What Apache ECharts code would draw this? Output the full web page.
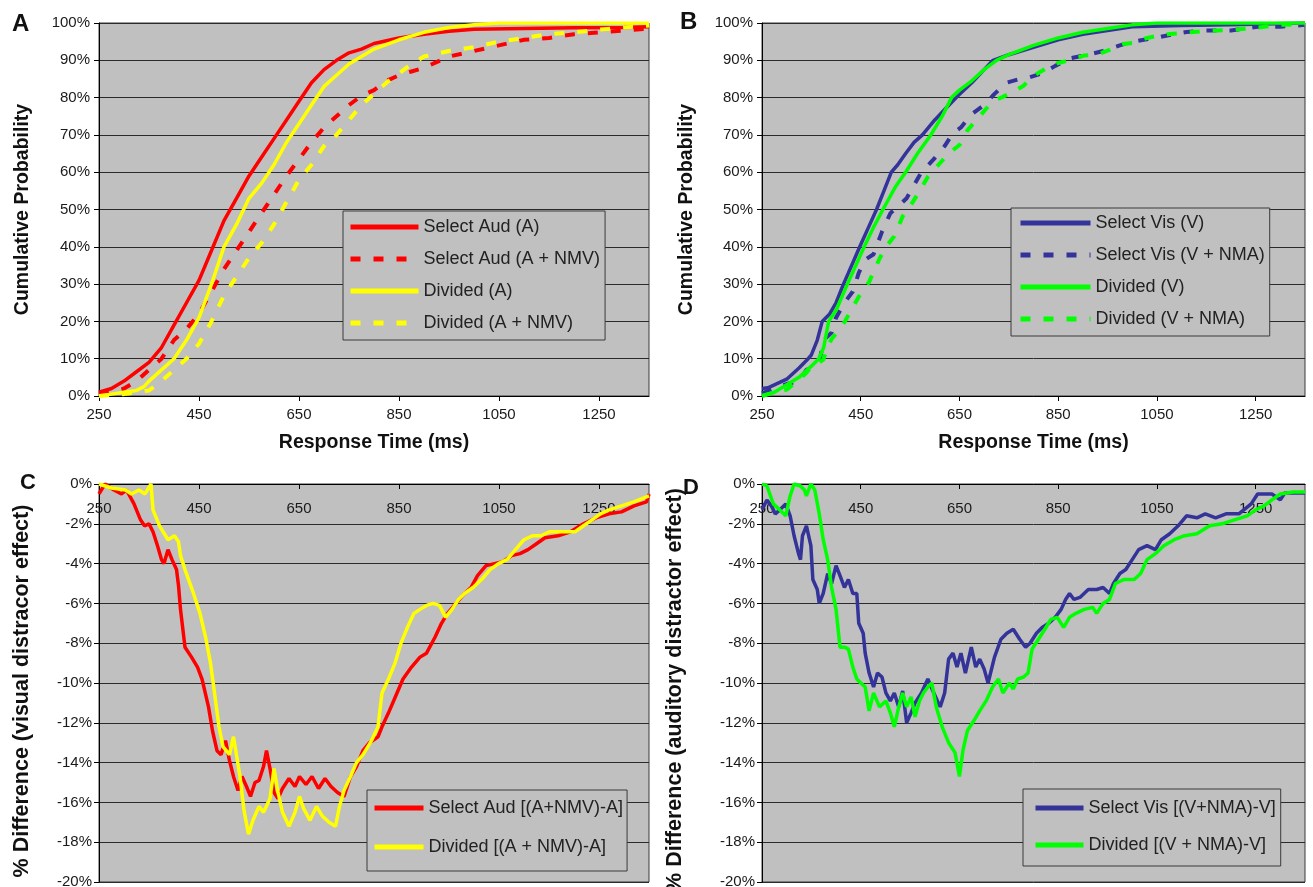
<!DOCTYPE html>
<html><head><meta charset="utf-8">
<script src="https://cdn.jsdelivr.net/npm/echarts@6/dist/echarts.min.js"></script>
<style>html,body{margin:0;padding:0;background:#fff}#c{width:1313px;height:887px}</style>
</head><body><div id="c"></div>
<script>
// ---------- tick labels ----------
const xTicks = [250, 450, 650, 850, 1050, 1250];

// ---------- Panel A : cumulative probability (%) vs response time (ms) ----------
const selAud = [[250,1],[275,2],[300,4],[325,6.5],[350,9],[375,13],[400,19],[425,25],[450,31],[475,39],[500,47],[525,53],[550,59],[575,64],[600,69],[625,74],[650,79],[675,84],[700,87.5],[725,90],[750,92],[775,93],[800,94.5],[850,96],[900,97],[950,97.8],[1000,98.3],[1100,98.5],[1200,98.7],[1300,98.8],[1350,99]];
const selAudNMV = [[250,0.5],[275,1],[300,2],[325,4],[350,7],[375,10],[400,15],[425,18],[450,22],[475,28],[500,34],[525,39],[550,44],[575,49],[600,54],[625,59],[650,63.5],[675,68],[700,72],[725,75],[750,78],[775,80.5],[800,82],[825,84.5],[850,86],[875,87],[900,88],[925,89.5],[950,91],[1000,92.5],[1050,94],[1100,95.5],[1150,96],[1200,97],[1250,97.5],[1300,98],[1350,98.5]];
const divA = [[250,0],[275,0.5],[300,1],[325,1.5],[340,2.5],[350,4],[375,7],[400,10],[425,15],[450,21],[475,30],[500,40],[525,46],[550,53],[575,57],[600,62],[625,68],[650,73],[675,78],[700,83],[725,86],[750,89],[775,91],[800,93],[850,95.5],[900,97.5],[950,98.8],[1000,99.5],[1050,100],[1350,100]];
const divANMV = [[250,0],[300,0.5],[350,1.5],[375,4],[400,7],[425,10],[450,14],[475,20],[500,27],[525,32],[550,37],[575,41],[600,46],[625,52],[650,58],[675,62],[700,67],[725,70],[750,74],[775,78],[800,81],[825,84],[850,86.5],[875,89],[900,91],[950,92.5],[1000,93.5],[1050,95],[1100,96],[1150,97],[1200,97.5],[1250,98.2],[1300,98.8],[1350,99.3]];

// ---------- Panel B ----------
const selVis = [[250,2],[262,2.2],[275,3],[300,4.5],[325,7.5],[340,9.5],[350,11],[362,15],[372,20],[387,22],[400,25],[415,30],[425,33],[448,40],[465,45],[482,50],[497,55],[512,60],[525,62],[541,65],[558,68],[575,70],[600,74],[625,77.5],[647,80.5],[675,84],[700,87.5],[718,90],[750,91.5],[800,93.5],[850,95.5],[900,97],[950,98],[1000,99],[1100,99.3],[1200,99.5],[1350,100]];
const selVisNMA = [[250,0.7],[275,2],[300,3.2],[325,4],[340,7],[350,7.5],[366,9],[375,15],[391,17],[400,21],[417,25],[434,28],[446,33],[459,36.5],[476,38],[493,44],[510,49],[527,51],[543,53],[560,57],[573,60],[598,63.5],[620,67],[637,70.5],[653,72],[674,75.5],[700,78],[721,81],[746,84],[772,85],[793,85.5],[818,86.5],[844,88.5],[873,90.5],[911,91.5],[941,92.5],[975,94],[1000,95],[1047,96],[1076,96.8],[1110,97.6],[1150,98],[1200,98],[1254,99],[1300,99],[1350,99.5]];
const divVis = [[250,0],[275,1],[300,3],[325,5],[350,8],[365,10],[375,13],[385,20],[400,23],[423,30],[440,35],[457,40],[475,45],[495,50],[520,56],[541,60],[565,65],[592,70],[615,75],[634,80],[650,82],[675,84.5],[700,87.5],[725,90],[750,91.5],[800,94],[850,96],[900,97.5],[950,98.5],[1000,99.5],[1050,100],[1350,100]];
const divVisNMA = [[250,0],[275,1],[300,1.7],[325,4.4],[340,6.2],[350,8],[366,9],[374,9.7],[383,13],[391,15.3],[400,16.7],[417,19.8],[434,23.8],[450,27.5],[467,30.6],[488,36.8],[501,40],[518,42.8],[535,48.2],[552,51.3],[569,54.9],[586,58.8],[603,61.3],[628,65],[650,67.3],[666,71.2],[691,75],[717,79],[738,80.2],[759,81.6],[780,83.2],[797,85.6],[823,87.6],[848,89.2],[873,90],[903,91.3],[928,91.5],[954,92.8],[983,94.4],[1004,94.7],[1030,96],[1064,96.9],[1106,97.4],[1157,97.9],[1207,98.2],[1250,98.7],[1300,99.5],[1350,99.6]];

// ---------- Panel C : % difference (visual distractor effect) ----------
const diffSelAud = [[250,-0.5],[262,0],[280,-0.3],[295,-0.5],[305,-0.3],[320,-1],[333,-1.8],[341,-2.1],[350,-2],[358,-2.4],[367,-3.1],[375,-3.8],[380,-4],[388,-3.3],[396,-3.8],[405,-4.3],[409,-5.1],[413,-6.3],[422,-8.2],[435,-8.7],[447,-9.2],[456,-9.8],[469,-11.2],[477,-12.4],[486,-13.4],[494,-13.6],[503,-12.9],[511,-13.9],[519,-14.7],[528,-15.4],[536,-14.7],[545,-15.2],[553,-15.7],[562,-15],[570,-14.9],[579,-14.2],[585,-13.4],[592,-14.3],[600,-15.5],[608,-15.8],[617,-15.3],[630,-14.8],[642,-15.2],[651,-14.7],[664,-15.1],[676,-14.7],[689,-15.3],[702,-14.8],[714,-15.2],[727,-15.5],[740,-15.7],[753,-14.7],[765,-14.2],[778,-13.4],[791,-13],[808,-12.7],[816,-12.2],[829,-11.5],[846,-10.5],[858,-9.8],[875,-9.2],[892,-8.7],[905,-8.5],[922,-7.7],[935,-7],[947,-6.5],[964,-6],[981,-5.5],[994,-5.2],[1007,-4.6],[1024,-4.1],[1041,-4],[1058,-3.9],[1075,-3.6],[1092,-3.5],[1108,-3.3],[1125,-3],[1142,-2.7],[1168,-2.6],[1193,-2.4],[1219,-2],[1244,-1.7],[1270,-1.5],[1295,-1.4],[1320,-1.1],[1345,-0.9],[1350,-0.5]];
const diffDivA = [[250,0],[275,-0.2],[303,-0.3],[315,-0.5],[330,-0.3],[342,-0.5],[354,0],[358,-1.3],[371,-2.1],[388,-2.8],[401,-2.6],[409,-2.9],[413,-3.6],[422,-4.3],[439,-5.5],[452,-6.5],[464,-7.8],[473,-9],[481,-10.5],[490,-12.2],[498,-13.2],[511,-13.6],[519,-12.7],[532,-14.7],[540,-16.4],[549,-17.6],[558,-16.9],[570,-16.2],[579,-16.5],[592,-15.8],[600,-14.3],[608,-15.5],[617,-16.5],[630,-17.2],[642,-16.5],[651,-15.7],[659,-16.3],[672,-16.9],[685,-16.2],[697,-16.7],[710,-17],[723,-17.2],[731,-16.2],[740,-15.4],[753,-14.7],[765,-14],[778,-13.6],[795,-12.9],[808,-12.2],[816,-10.5],[829,-9.8],[842,-9],[854,-8],[867,-7.2],[880,-6.5],[892,-6.3],[905,-6.1],[918,-6],[931,-6.1],[943,-6.7],[956,-6.3],[969,-5.8],[981,-5.5],[998,-5.2],[1015,-4.8],[1032,-4.3],[1049,-4],[1066,-3.8],[1083,-3.3],[1100,-2.8],[1117,-2.6],[1134,-2.6],[1151,-2.4],[1176,-2.4],[1202,-2.4],[1219,-2.1],[1236,-1.8],[1253,-1.5],[1270,-1.3],[1295,-1.1],[1320,-0.9],[1350,-0.6]];

// ---------- Panel D : % difference (auditory distractor effect) ----------
const diffSelVis = [[250,-1.3],[260,-0.8],[269,-1.1],[277,-1.5],[286,-1.3],[298,-1],[307,-1.6],[315,-2.6],[324,-3.5],[328,-3.8],[332,-2.6],[340,-2.1],[349,-3.1],[353,-4.8],[362,-5.3],[366,-6],[374,-5.5],[383,-4.5],[391,-5],[400,-4.1],[408,-4.6],[417,-5.2],[425,-4.8],[434,-5.5],[442,-5.5],[446,-7],[455,-7.5],[459,-8.5],[467,-9.5],[476,-10.2],[484,-9.5],[493,-9.7],[501,-10.5],[510,-10.9],[518,-10.5],[527,-11.2],[535,-10.4],[543,-12],[552,-11.5],[560,-11],[573,-10.5],[586,-9.8],[598,-10.5],[611,-11.2],[620,-10.5],[628,-8.8],[637,-8.5],[645,-9.2],[653,-8.5],[662,-9.5],[674,-8.2],[683,-9.2],[691,-8.8],[700,-9.3],[708,-10],[721,-8.7],[734,-7.8],[746,-7.5],[759,-7.3],[772,-7.8],[784,-8.2],[793,-8],[806,-7.5],[818,-7.2],[831,-7],[844,-6.7],[856,-6.3],[865,-5.8],[873,-5.5],[882,-5.8],[894,-5.7],[911,-5.3],[928,-5.3],[941,-5.2],[954,-5.5],[962,-5],[975,-4.5],[987,-4.3],[1000,-3.8],[1013,-3.3],[1030,-3.1],[1047,-3.3],[1059,-2.8],[1076,-2.5],[1093,-2.1],[1110,-1.6],[1131,-1.7],[1148,-1.5],[1169,-1.7],[1190,-1.5],[1216,-1.5],[1241,-1],[1254,-0.5],[1283,-0.5],[1300,-0.8],[1309,-0.45],[1350,-0.45]];
const diffDivVis = [[250,0],[260,-0.1],[273,-1],[286,-1.3],[298,-1.6],[307,-0.6],[315,0],[328,-0.1],[336,-0.3],[340,-0.6],[349,0],[357,-0.3],[366,-1.5],[374,-2.8],[383,-3.8],[391,-5.2],[400,-6.3],[408,-8.2],[417,-8.2],[425,-8.3],[434,-9.2],[442,-9.8],[450,-10],[459,-10.2],[467,-11.4],[476,-10.5],[488,-11.2],[501,-10.9],[510,-11.5],[518,-12.2],[527,-11.2],[535,-10.5],[543,-11.2],[552,-10.7],[560,-11.7],[569,-10.9],[577,-10.5],[586,-10.2],[594,-10],[603,-11.2],[615,-12.2],[628,-13],[641,-13.5],[650,-14.7],[657,-13.4],[666,-12.4],[679,-11.9],[691,-11.4],[704,-10.9],[717,-10.2],[729,-9.8],[738,-10.5],[751,-10],[759,-10.3],[768,-9.8],[780,-9.7],[789,-9.5],[797,-8.3],[810,-7.8],[823,-7.3],[835,-6.8],[848,-6.7],[861,-7.2],[873,-6.7],[886,-6.5],[903,-6.3],[920,-6.2],[928,-6.5],[941,-6],[954,-5.8],[966,-5],[983,-4.8],[1004,-4.8],[1017,-4.5],[1030,-3.8],[1047,-3.5],[1064,-3.1],[1085,-2.8],[1106,-2.6],[1131,-2.5],[1157,-2.1],[1182,-2],[1207,-1.8],[1233,-1.6],[1250,-1.3],[1267,-1.1],[1283,-0.8],[1300,-0.5],[1326,-0.4],[1350,-0.4]];

// ---------- styling ----------
const FONT = 'Liberation Sans, Arial, sans-serif';
const RED = '#ff0000', YEL = '#ffff00', BLU = '#333399', GRN = '#00ff00';
const DASH = [10, 13];

const grids = [
  {left: 99, top: 23, width: 550, height: 373},
  {left: 762, top: 23, width: 543, height: 373},
  {left: 99, top: 484, width: 550, height: 398},
  {left: 762, top: 484, width: 543, height: 398}
].map(g => Object.assign(g, {show: true, backgroundColor: '#c0c0c0', borderColor: '#3a3a3a', borderWidth: 1, containLabel: false, outerBoundsMode: 'none'}));

function xAx(i, top) {
  const a = {
    type: 'value', gridIndex: i, min: 250, max: 1350,
    position: top ? 'top' : 'bottom',
    axisLine: {show: true, onZero: false, lineStyle: {color: '#000', width: 1}},
    axisTick: {show: true, customValues: xTicks, length: 5, inside: !!top, lineStyle: {color: '#000'}},
    axisLabel: {customValues: xTicks, formatter: v => String(v), fontFamily: FONT, fontSize: 15, color: '#1a1a1a', margin: top ? 17 : 11, inside: !!top},
    splitLine: {show: false}
  };
  if (!top) {
    a.name = 'Response Time (ms)';
    a.nameLocation = 'middle';
    a.nameGap = 37;
    a.nameTextStyle = {fontFamily: FONT, fontSize: 19.5, fontWeight: 'bold', color: '#111'};
  }
  return a;
}
function yAx(i, min, max, interval, name, gap, fs, margin, shift) {
  return {
    type: 'value', gridIndex: i, min: min, max: max, interval: interval,
    axisLine: {show: true, lineStyle: {color: '#000', width: 1}},
    axisTick: {show: true, length: 5, lineStyle: {color: '#000'}},
    axisLabel: {formatter: '{value}%', fontFamily: FONT, fontSize: 15, color: '#1a1a1a', margin: margin},
    splitLine: {show: true, lineStyle: {color: '#2a2a2a', width: 1}},
    name: name, nameLocation: 'middle', nameGap: gap,
    nameTextStyle: {fontFamily: FONT, fontSize: fs, fontWeight: 'bold', color: '#111', padding: [0, shift, 0, 0]}
  };
}
function ser(name, data, color, dashed, gi, w) {
  return {
    type: 'line', name: name, data: data, xAxisIndex: gi, yAxisIndex: gi,
    showSymbol: false, symbol: 'none', smooth: false,
    lineStyle: {color: color, width: w, type: dashed ? DASH : 'solid'},
    itemStyle: {color: color}, emphasis: {disabled: true}, z: 3
  };
}
function legend(names, left, top, itemW, textW, pad, gap) {
  return {
    data: names, orient: 'vertical', left: left, top: top,
    itemWidth: itemW, itemHeight: 20, itemGap: gap, padding: pad,
    backgroundColor: '#c0c0c0', borderColor: '#3a3a3a', borderWidth: 1, borderRadius: 0,
    selectedMode: false, lineStyle: {width: 5}, itemStyle: {opacity: 0},
    textStyle: {fontFamily: FONT, fontSize: 18, color: '#222', width: textW, overflow: 'none'}
  };
}
function letter(t, left, top, fs) {
  return {text: t, left: left, top: top, padding: 0,
    textStyle: {fontFamily: FONT, fontSize: fs, fontWeight: 'bold', color: '#111'}};
}

const A = ['Select Aud (A)', 'Select Aud (A + NMV)', 'Divided (A)', 'Divided (A + NMV)'];
const B = ['Select Vis (V)', 'Select Vis (V + NMA)', 'Divided (V)', 'Divided (V + NMA)'];
const C = ['Select Aud [(A+NMV)-A]', 'Divided [(A + NMV)-A]'];
const D = ['Select Vis [(V+NMA)-V]', 'Divided [(V + NMA)-V]'];

const option = {
  animation: false,
  backgroundColor: '#ffffff',
  title: [letter('A', 12, 12, 24), letter('B', 680, 10, 24), letter('C', 20, 472, 22), letter('D', 683, 477, 22)],
  grid: grids,
  xAxis: [xAx(0, false), xAx(1, false), xAx(2, true), xAx(3, true)],
  yAxis: [
    yAx(0, 0, 100, 10, 'Cumulative Probability', 66, 19.5, 9, 0),
    yAx(1, 0, 100, 10, 'Cumulative Probability', 65, 19.5, 9, 0),
    yAx(2, -20, 0, 2, '% Difference (visual distracor effect)', 66, 21.5, 7, 16),
    yAx(3, -20, 0, 2, '% Difference (auditory distractor effect)', 76, 21.5, 7, 14)
  ],
  legend: [
    legend(A, 343, 211, 68, 185, [7, 5, 8, 5], 14),
    legend(B, 1011, 208, 70, 182, [6, 5, 8, 7], 14),
    legend(C, 367, 790, 49, 210, [9, 4, 15, 5], 21),
    legend(D, 1023, 789, 48, 208, [10, 5, 12, 10], 19)
  ],
  series: [
    ser(A[0], selAud, RED, false, 0, 3.5),
    ser(A[1], selAudNMV, RED, true, 0, 4),
    ser(A[2], divA, YEL, false, 0, 3.5),
    ser(A[3], divANMV, YEL, true, 0, 4),
    ser(B[0], selVis, BLU, false, 1, 3.5),
    ser(B[1], selVisNMA, BLU, true, 1, 4),
    ser(B[2], divVis, GRN, false, 1, 3.5),
    ser(B[3], divVisNMA, GRN, true, 1, 4),
    ser(C[0], diffSelAud, RED, false, 2, 3.5),
    ser(C[1], diffDivA, YEL, false, 2, 3.5),
    ser(D[0], diffSelVis, BLU, false, 3, 3.5),
    ser(D[1], diffDivVis, GRN, false, 3, 3.5)
  ]
};
const chart = echarts.init(document.getElementById('c'), null, {renderer: 'canvas'});
chart.setOption(option);
</script>
</body></html>
